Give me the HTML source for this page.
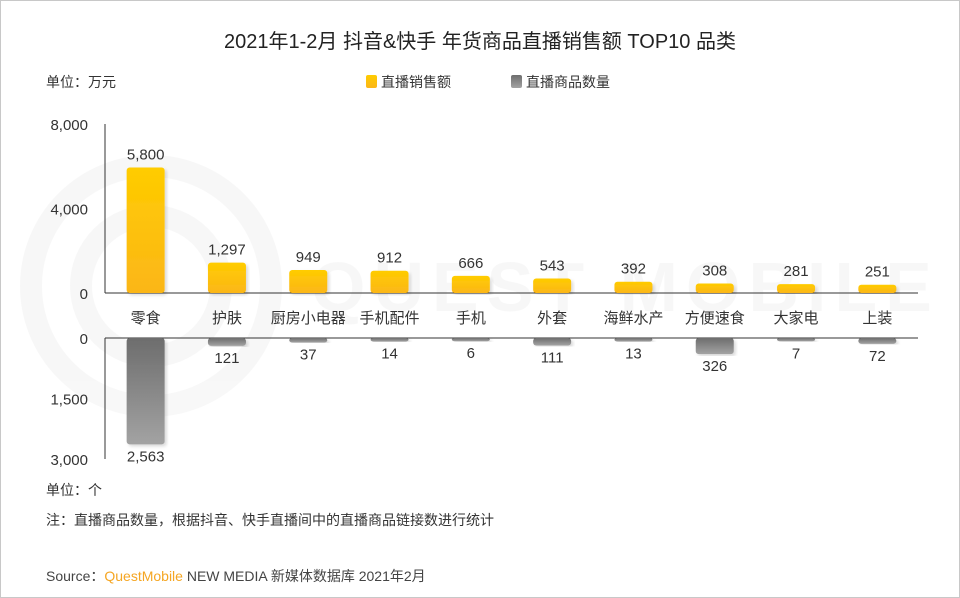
<!DOCTYPE html>
<html><head><meta charset="utf-8">
<style>
body{margin:0;background:#fff;}
#wrap{position:relative;width:958px;height:596px;border:1px solid #c8c8c8;overflow:hidden;font-family:"Liberation Sans","Noto Sans CJK SC",sans-serif;}
svg text{font-family:"Liberation Sans","Noto Sans CJK SC",sans-serif;}
</style></head><body>
<div id="wrap">
<svg id="svg" width="958" height="596">
<defs>
<linearGradient id="gy" x1="0" y1="0" x2="0" y2="1"><stop offset="0" stop-color="#ffcc00"/><stop offset="1" stop-color="#fbb618"/></linearGradient>
<linearGradient id="gg" x1="0" y1="0" x2="0" y2="1"><stop offset="0" stop-color="#6d6d6d"/><stop offset="1" stop-color="#a3a3a3"/></linearGradient>
<filter id="sh"><feDropShadow dx="2" dy="2" stdDeviation="1.5" flood-color="#000" flood-opacity="0.15"/></filter>
</defs>
<g opacity="0.04" fill="none" stroke="#555">
<circle cx="150" cy="285" r="120" stroke-width="22"/>
<circle cx="150" cy="285" r="70" stroke-width="22"/>
<text x="310" y="310" font-size="70" fill="#555" stroke="none" font-weight="bold" letter-spacing="8">QUEST MOBILE</text>
</g>
<text x="479" y="47" text-anchor="middle" font-size="20" fill="#222">2021年1-2月 抖音&amp;快手 年货商品直播销售额 TOP10 品类</text>
<text x="45" y="86" font-size="14" fill="#333">单位：万元</text>
<rect x="365" y="74" width="11" height="13" rx="2" fill="url(#gy)"/>
<text x="380" y="86" font-size="14" fill="#333">直播销售额</text>
<rect x="510" y="74" width="11" height="13" rx="2" fill="url(#gg)"/>
<text x="525" y="86" font-size="14" fill="#333">直播商品数量</text>
<g id="plot"></g>
<text x="45" y="494" font-size="14" fill="#333">单位：个</text>
<text x="45" y="524" font-size="14" fill="#333">注：直播商品数量，根据抖音、快手直播间中的直播商品链接数进行统计</text>
<text x="45" y="580" font-size="14" fill="#444">Source：<tspan fill="#f5a623">QuestMobile</tspan> NEW MEDIA 新媒体数据库 2021年2月</text>
</svg>
</div>
<script>
const categories=["零食","护肤","厨房小电器","手机配件","手机","外套","海鲜水产","方便速食","大家电","上装"];
const salesValues=[5800,1297,949,912,666,543,392,308,281,251];
const countValues=[2563,121,37,14,6,111,13,326,7,72];
const salesTicks=[0,4000,8000];
const countTicks=[0,1500,3000];
const NS="http://www.w3.org/2000/svg";
const g=document.getElementById("plot");
const x0=104,x1=917,band=(x1-x0)/categories.length,bw=38;
const yS=v=>292-v*(169/8000);
const yC=v=>337+v*(121/3000);
const xc=i=>x0+band*(i+0.5);
function mk(t,a){const e=document.createElementNS(NS,t);for(const k in a)e.setAttribute(k,a[k]);g.appendChild(e);return e;}
const fmt=v=>v.toLocaleString("en-US");
let e;
e=mk("line",{x1:x0,y1:yS(8000),x2:x0,y2:292,stroke:"#333"});


e=mk("line",{x1:x0,y1:292,x2:x1,y2:292,stroke:"#333"});


e=mk("line",{x1:x0,y1:337,x2:x0,y2:yC(3000),stroke:"#333"});


e=mk("line",{x1:x0,y1:337,x2:x1,y2:337,stroke:"#333"});


salesTicks.forEach(v=>{const t=mk("text",{x:87,y:yS(v)+6,"text-anchor":"end","font-size":15,fill:"#333"});t.textContent=fmt(v);

});
countTicks.forEach(v=>{const t=mk("text",{x:87,y:yC(v)+6,"text-anchor":"end","font-size":15,fill:"#333"});t.textContent=fmt(v);

});
categories.forEach((c,i)=>{
 const cx=xc(i);
 const top=yS(salesValues[i])-3;
 let r=mk("rect",{x:cx-bw/2,y:top,width:bw,height:292-top,rx:3,fill:"url(#gy)",filter:"url(#sh)"});
 
 
 let t=mk("text",{x:cx,y:top-8,"text-anchor":"middle","font-size":15,fill:"#333"});t.textContent=fmt(salesValues[i]);
 
 
 t=mk("text",{x:cx,y:322,"text-anchor":"middle","font-size":15,fill:"#333"});t.textContent=c;
 
 
 const bot=yC(countValues[i])+3;
 r=mk("rect",{x:cx-bw/2,y:337,width:bw,height:bot-337,rx:3,fill:"url(#gg)",filter:"url(#sh)"});
 
 
 t=mk("text",{x:cx,y:bot+17,"text-anchor":"middle","font-size":15,fill:"#333"});t.textContent=fmt(countValues[i]);
 
 
});
</script>
</body></html>
